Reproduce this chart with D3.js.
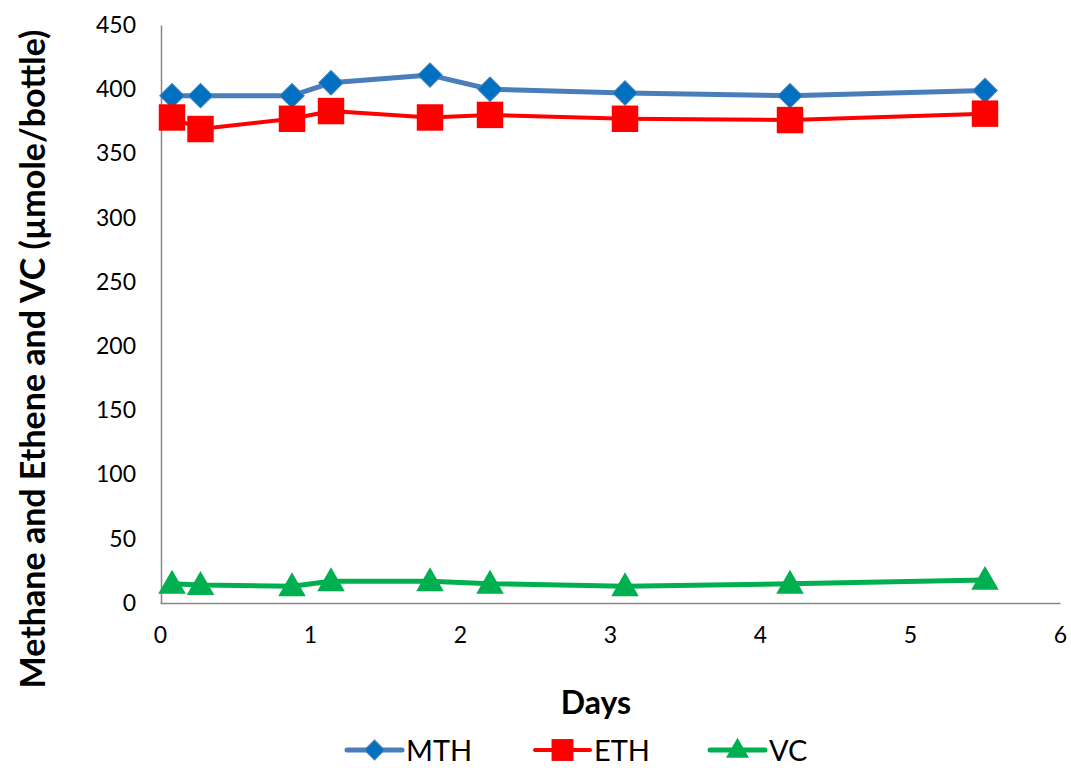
<!DOCTYPE html>
<html>
<head>
<meta charset="utf-8">
<script src="https://cdn.jsdelivr.net/npm/d3@7"></script>
<style>
  body { margin: 0; background: #fff; }
  svg { font-family: Lato, "Open Sans", sans-serif; }
</style>
</head>
<body>
<svg id="chart" width="1071" height="768"></svg>
<script>
// values
const days = [0.08, 0.27, 0.88, 1.14, 1.8, 2.2, 3.1, 4.2, 5.5];
const mth = [395, 395, 395, 405, 411, 400, 397, 395, 399];
const eth = [378, 369, 377, 383, 378, 380, 377, 376, 381];
const vc = [15, 14, 13, 17, 17, 15, 13, 15, 18];
const xTicks = [0, 1, 2, 3, 4, 5, 6];
const yTicks = [0, 50, 100, 150, 200, 250, 300, 350, 400, 450];

const series = [
  { name: 'MTH', values: mth, line: '#4a7ebb', fill: '#0070c0', shape: 'diamond' },
  { name: 'ETH', values: eth, line: '#ff0000', fill: '#ff0000', shape: 'square' },
  { name: 'VC', values: vc, line: '#00b050', fill: '#00b050', shape: 'triangle' }
];

const svg = d3.select('#chart');
const mLeft = 161, mRight = 1060, mTop = 25, mBottom = 603;

const x = d3.scaleLinear().domain([0, 6]).range([mLeft - 1, mRight]);
const y = d3.scaleLinear().domain([0, 450]).range([mBottom, mTop]);

// axes
const xAxis = svg.append('g')
  .attr('transform', `translate(0,${mBottom})`)
  .call(d3.axisBottom(x).tickValues(xTicks).tickSize(0).tickPadding(24).tickFormat(d3.format('d')));
xAxis.attr('font-family', null);
xAxis.select('.domain').attr('stroke', '#868686').attr('stroke-width', 1.5);
xAxis.selectAll('text').style('font-size', '23px').attr('fill', '#000');

const yAxis = svg.append('g')
  .attr('transform', `translate(${mLeft},0)`)
  .call(d3.axisLeft(y).tickValues(yTicks).tickSize(0).tickPadding(25));
yAxis.attr('font-family', null);
yAxis.selectAll('text').style('font-size', '23px').attr('fill', '#000');
yAxis.select('.domain').attr('stroke', '#868686').attr('stroke-width', 1.5);

// titles
svg.append('text')
  .attr('x', 596).attr('y', 714)
  .attr('text-anchor', 'middle')
  .style('font-size', '32px').style('font-weight', 'bold')
  .text('Days');

svg.append('text')
  .attr('transform', `translate(45,${(mTop + 693) / 2}) rotate(-90)`)
  .attr('text-anchor', 'middle')
  .style('font-size', '34px').style('font-weight', 'bold')
  .text('Methane and Ethene and VC (µmole/bottle)');

const symbols = {
  diamond: d3.symbol().type(d3.symbolSquare).size(300),
  square: d3.symbol().type(d3.symbolSquare).size(700),
  triangle: d3.symbol().type(d3.symbolTriangle).size(330)
};
const rot = s => s === 'diamond' ? ' rotate(45)' : '';

const line = d3.line().x(d => x(d[0])).y(d => y(d[1]));

series.forEach(s => {
  const pts = days.map((d, i) => [d, s.values[i]]);
  svg.append('path')
    .datum(pts)
    .attr('d', line)
    .attr('fill', 'none')
    .attr('stroke', s.line)
    .attr('stroke-width', s.shape === 'square' ? 4 : 5)
    .attr('stroke-linejoin', 'round');
  svg.append('g').selectAll('path')
    .data(pts)
    .join('path')
    .attr('d', symbols[s.shape])
    .attr('transform', d => `translate(${x(d[0])},${y(d[1]) + (s.shape === 'triangle' ? 2 : 0)})${rot(s.shape)}`)
    .attr('fill', s.fill)
    .attr('stroke', s.shape === 'diamond' ? '#4a7ebb' : 'none')
    .attr('stroke-width', 1);
});

// legend
const legendX = [347, 535, 710];
const legendSym = {
  diamond: d3.symbol().type(d3.symbolSquare).size(200),
  square: d3.symbol().type(d3.symbolSquare).size(480),
  triangle: d3.symbol().type(d3.symbolTriangle).size(230)
};
series.forEach((s, i) => {
  const g = svg.append('g').attr('transform', `translate(${legendX[i]},750)`);
  g.append('line').attr('x1', 0).attr('x2', 55)
    .attr('stroke', s.line).attr('stroke-width', s.shape === 'square' ? 4 : 5)
    .attr('stroke-linecap', 'round');
  g.append('path').attr('d', legendSym[s.shape])
    .attr('transform', `translate(27.5,${s.shape === 'triangle' ? 1 : 0})${rot(s.shape)}`)
    .attr('fill', s.fill)
    .attr('stroke', s.shape === 'diamond' ? '#4a7ebb' : 'none');
  g.append('text').attr('x', 59).attr('y', 11)
    .style('font-size', '29px')
    .text(s.name);
});
</script>
</body>
</html>
